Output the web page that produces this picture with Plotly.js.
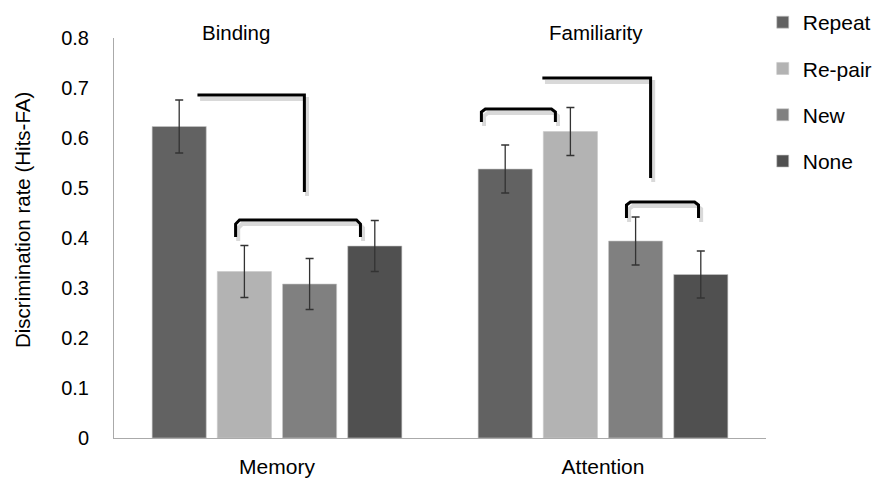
<!DOCTYPE html>
<html>
<head>
<meta charset="utf-8">
<script src="https://cdn.plot.ly/plotly-3.0.1.min.js"></script>
<style>html,body{margin:0;padding:0;background:#fff;}#chart{width:880px;height:480px;}</style>
</head>
<body>
<div id="chart"></div>
<script>
const categories = ["Memory", "Attention"];
const seriesNames = ["Repeat", "Re-pair", "New", "None"];
const repeatVals = [0.623, 0.538];
const repairVals = [0.333, 0.613];
const newVals = [0.308, 0.394];
const noneVals = [0.384, 0.327];
const repeatErr = [0.053, 0.048];
const repairErr = [0.052, 0.048];
const newErr = [0.051, 0.048];
const noneErr = [0.051, 0.047];
const groupLabels = ["Binding", "Familiarity"];
const colors = ["#626262", "#b3b3b3", "#808080", "#505050"];

const vals = [repeatVals, repairVals, newVals, noneVals];
const errs = [repeatErr, repairErr, newErr, noneErr];
const font = "Liberation Sans, Arial, sans-serif";

const traces = seriesNames.map((n, i) => ({
  type: "bar",
  name: n,
  x: categories,
  y: vals[i],
  legendgroup: n,
  marker: {color: colors[i], line: {color: "rgba(200,200,200,0.6)", width: 1}},
  error_y: {type: "data", array: errs[i], visible: true, color: "#333", thickness: 1.3, width: 4}
}));

// brackets in data coordinates (category index on x)
function path(pts){ return pts.map((p,i)=>(i?"L":"M")+p[0]+","+p[1]).join(" "); }
const brackets = [
  [[-0.244,0.686],[0.084,0.686],[0.084,0.492]],
  [[-0.127,0.402],[-0.127,0.428],[-0.115,0.436],[0.244,0.436],[0.256,0.428],[0.256,0.402]],
  [[0.627,0.632],[0.627,0.652],[0.639,0.658],[0.842,0.658],[0.854,0.652],[0.854,0.632]],
  [[0.814,0.720],[1.146,0.720],[1.146,0.520]],
  [[1.072,0.440],[1.072,0.466],[1.084,0.472],[1.281,0.472],[1.293,0.466],[1.293,0.440]]
];
const shapes = [];
brackets.forEach(b => {
  shapes.push({type:"path", xref:"x", yref:"y", path: path(b.map(p=>[p[0]+0.008,p[1]-0.008])), line:{color:"rgba(0,0,0,0.15)", width:4}});
});
brackets.forEach(b => {
  shapes.push({type:"path", xref:"x", yref:"y", path: path(b), line:{color:"#000", width:3}});
});

const labelOffsets = [-0.127, -0.02];
const annotations = groupLabels.map((t, i) => ({
  text: t, x: i + labelOffsets[i], xref: "x", y: (438 - 32) / 400, yref: "paper", yanchor: "middle",
  showarrow: false, font: {family: font, size: 20.5, color: "#000"}
}));
annotations.push({
  text: "Discrimination rate (Hits-FA)", textangle: -90,
  x: (23 - 114) / 652, xref: "paper", y: (438 - 220) / 400, yref: "paper",
  xanchor: "center", yanchor: "middle", showarrow: false,
  font: {family: font, size: 20.5, color: "#000"}
});

const layout = {
  width: 880, height: 480,
  margin: {l: 114, r: 114, t: 38, b: 42, autoexpand: false},
  paper_bgcolor: "#fff", plot_bgcolor: "#fff",
  barmode: "group", bargap: 0.2, bargroupgap: 0.17,
  font: {family: font, size: 20.5, color: "#000"},
  xaxis: {showline: true, linecolor: "#aaa", linewidth: 1, ticks: "", showgrid: false,
          tickfont: {size: 21, color: "#000"}, ticklabelstandoff: 10, automargin: false},
  yaxis: {range: [0, 0.8], showline: true, linecolor: "#aaa", linewidth: 1, showgrid: false,
          zeroline: false, tickvals: [0,0.1,0.2,0.3,0.4,0.5,0.6,0.7,0.8],
          ticktext: ["0","0.1","0.2","0.3","0.4","0.5","0.6","0.7","0.8"],
          tickfont: {size: 20, color: "#000"}, ticklabelstandoff: 20, automargin: false},
  showlegend: true,
  legend: {x: 0.995, xanchor: "left", y: 1.09, yanchor: "top", tracegroupgap: 16,
           font: {size: 21, color: "#000"}, itemwidth: 30},
  shapes: shapes,
  annotations: annotations
};

Plotly.newPlot("chart", traces, layout, {displayModeBar: false, staticPlot: true});
</script>
</body>
</html>
